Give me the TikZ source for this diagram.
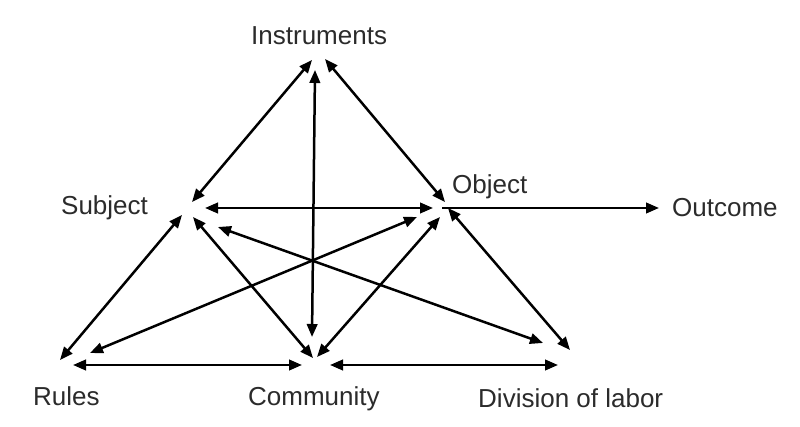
\documentclass[tikz,border=0pt]{standalone}
\usepackage{fontspec}
\setmainfont{Liberation Sans}
\usetikzlibrary{arrows.meta}
\definecolor{txt}{HTML}{2B2B2B}
\tikzset{
  lbl/.style={anchor=base west, inner sep=0pt, text=txt, font=\fontsize{26}{30}\selectfont},
  link/.style={line width=2.5pt, {Triangle[length=13pt,width=10.5pt]}-{Triangle[length=13pt,width=10.5pt]}},
  onelink/.style={line width=2.5pt, -{Triangle[length=13pt,width=10.5pt]}}
}
\begin{document}
\begin{tikzpicture}[x=1pt,y=-1pt]
\useasboundingbox[fill=white] (0,0) rectangle (800,427);
% labels
\node[lbl] (instr) at (251,45) {Instruments};
\node[lbl] (subj) at (61,215) {Subject};
\node[lbl] (obj) at (452,194) {Object};
\node[lbl] (outc) at (672,217) {Outcome};
\node[lbl] (rules) at (33,405) {Rules};
\node[lbl] (comm) at (248,405) {Community};
\node[lbl] (div) at (478,407) {Division of labor};
% endpoints
\coordinate (IS1) at (312,60);  \coordinate (IS2) at (192,202);
\coordinate (IO1) at (325,59);  \coordinate (IO2) at (445,202);
\coordinate (IC1) at (315,70);  \coordinate (IC2) at (312,337);
\coordinate (SO1) at (205,208); \coordinate (SO2) at (433,208);
\coordinate (SR1) at (182,215); \coordinate (SR2) at (60,360);
\coordinate (SC1) at (193,217); \coordinate (SC2) at (313,358);
\coordinate (SD1) at (218,227); \coordinate (SD2) at (543,343);
\coordinate (RO1) at (90,353);  \coordinate (RO2) at (417,217);
\coordinate (CO1) at (317,357); \coordinate (CO2) at (440,217);
\coordinate (OD1) at (448,208); \coordinate (OD2) at (570,350);
\coordinate (OU1) at (442,208); \coordinate (OU2) at (659,208);
\coordinate (RC1) at (73,365);  \coordinate (RC2) at (302,365);
\coordinate (CD1) at (330,365); \coordinate (CD2) at (558,365);
% connectors
\draw[link] (IS1) -- (IS2);
\draw[link] (IO1) -- (IO2);
\draw[link] (IC1) -- (IC2);
\draw[link] (SO1) -- (SO2);
\draw[link] (SR1) -- (SR2);
\draw[link] (SC1) -- (SC2);
\draw[link] (SD1) -- (SD2);
\draw[link] (RO1) -- (RO2);
\draw[link] (CO1) -- (CO2);
\draw[link] (OD1) -- (OD2);
\draw[onelink] (OU1) -- (OU2);
\draw[link] (RC1) -- (RC2);
\draw[link] (CD1) -- (CD2);
\end{tikzpicture}
\end{document}
